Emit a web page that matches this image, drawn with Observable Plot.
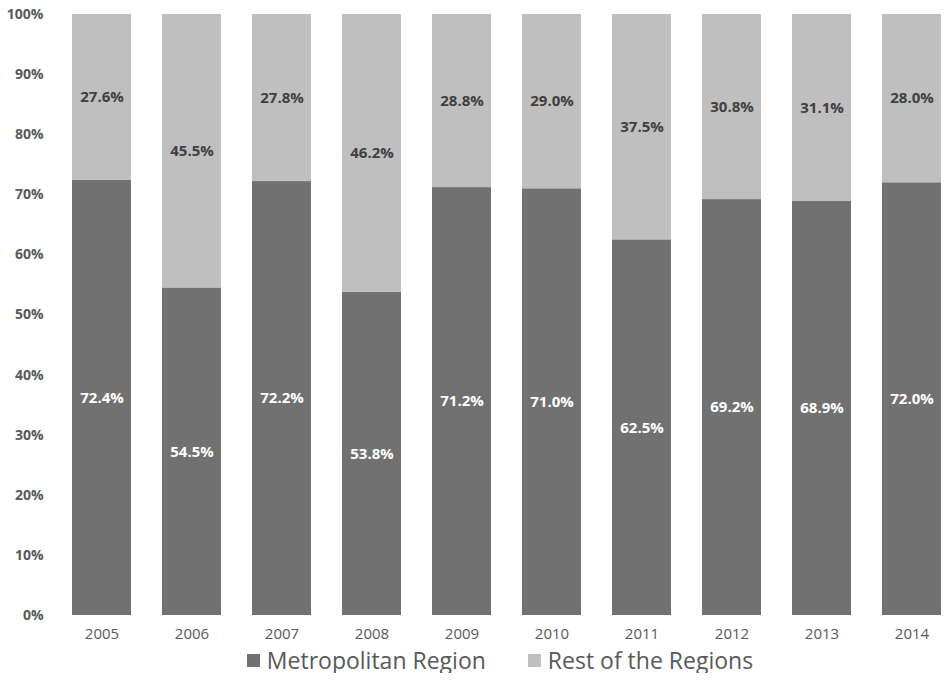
<!DOCTYPE html>
<html>
<head>
<meta charset="utf-8">
<script src="https://cdn.jsdelivr.net/npm/d3@7"></script>
<script src="https://cdn.jsdelivr.net/npm/@observablehq/plot@0.6"></script>
<style>
  html, body { margin: 0; padding: 0; background: #fff; }
  #chart { width: 951px; font-family: "Open Sans", sans-serif; }
  #legend { display: flex; justify-content: center; align-items: center; gap: 42px;
            font-family: "Open Sans", sans-serif; font-size: 23px; color: #595959;
            height: 26px; margin-left: 49px; }
  #legend .item { display: flex; align-items: center; gap: 7px; }
  #legend .sw { width: 13px; height: 13px; display: inline-block; }
</style>
</head>
<body>
<div id="chart"></div>
<script>
// Share of totals by year: Metropolitan Region vs. the rest of the regions (%)
const years = ["2005", "2006", "2007", "2008", "2009", "2010", "2011", "2012", "2013", "2014"];
const metropolitan = [72.4, 54.5, 72.2, 53.8, 71.2, 71.0, 62.5, 69.2, 68.9, 72.0];
const restOfRegions = [27.6, 45.5, 27.8, 46.2, 28.8, 29.0, 37.5, 30.8, 31.1, 28.0];
const seriesNames = ["Metropolitan Region", "Rest of the Regions"];
const yTicks = [0, 10, 20, 30, 40, 50, 60, 70, 80, 90, 100];

const seriesColors = ["#717171", "#bfbfbf"];
const labelColors = ["#ffffff", "#404040"];

const rows = [];
years.forEach((year, i) => {
  rows.push({year, series: seriesNames[0], value: metropolitan[i]});
  rows.push({year, series: seriesNames[1], value: restOfRegions[i]});
});

const plot = Plot.plot({
  width: 951,
  height: 647,
  marginTop: 14,
  marginBottom: 32,
  marginLeft: 56,
  marginRight: 0,
  style: {fontFamily: "Open Sans, sans-serif", background: "#fff"},
  x: {domain: years, range: [56.5, 956.5], paddingInner: 0.34, paddingOuter: 0.17},
  y: {domain: [0, 100]},
  color: {domain: seriesNames, range: seriesColors},
  marks: [
    Plot.gridY(yTicks, {stroke: "#d9d9d9", strokeOpacity: 1, x1: 55, x2: 951}),
    Plot.barY(rows, Plot.stackY({x: "year", y: "value", z: "series", fill: "series", order: seriesNames})),
    Plot.text(rows, Plot.stackY({
      x: "year", y: "value", z: "series", order: seriesNames,
      text: d => d.value.toFixed(1) + "%",
      fill: d => labelColors[seriesNames.indexOf(d.series)],
      fontSize: 15, fontWeight: "bold"
    })),
    Plot.axisY(yTicks, {tickSize: 0, tickPadding: 13, tickFormat: d => d + "%", label: null,
      fontSize: 14, fontWeight: "bold", fill: "#595959"}),
    Plot.axisX({tickSize: 0, tickPadding: 13, label: null, fontSize: 15, fill: "#595959"})
  ]
});
document.getElementById("chart").appendChild(plot);

// Legend built from the same color scale
const scale = plot.scale("color");
const legend = document.createElement("div");
legend.id = "legend";
scale.domain.forEach((name, i) => {
  const item = document.createElement("span");
  item.className = "item";
  const sw = document.createElement("span");
  sw.className = "sw";
  sw.style.background = scale.range[i];
  const label = document.createElement("span");
  label.textContent = name;
  item.appendChild(sw);
  item.appendChild(label);
  legend.appendChild(item);
});
document.getElementById("chart").appendChild(legend);
</script>
</body>
</html>
